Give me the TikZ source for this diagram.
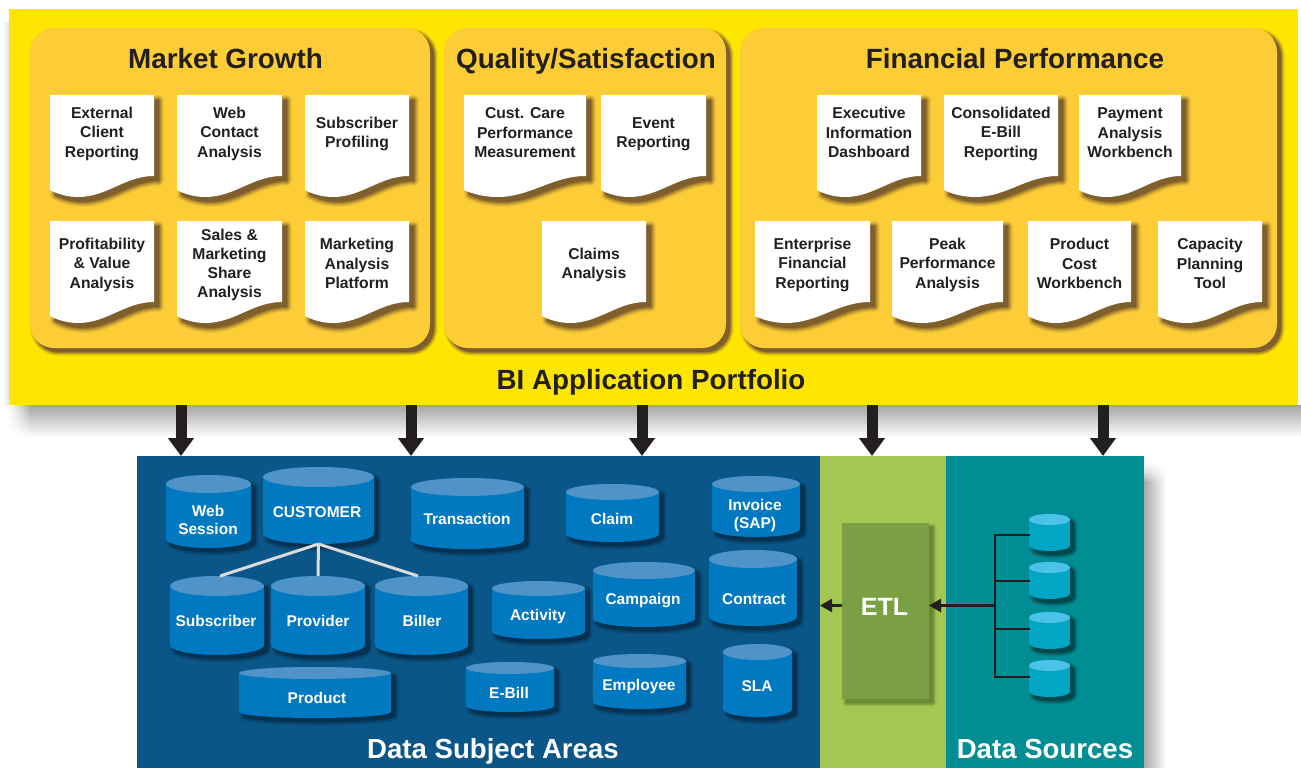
\documentclass[tikz,border=0pt]{standalone}
\usepackage{fontspec}
\setmainfont{Liberation Sans}
\usetikzlibrary{arrows.meta}
\definecolor{cYellow}{HTML}{FFE600}
\definecolor{cPanel}{HTML}{FCCD36}
\definecolor{cInk}{HTML}{231F20}
\definecolor{cBlue}{HTML}{0A5688}
\definecolor{cGreen}{HTML}{A4C652}
\definecolor{cTeal}{HTML}{008E94}
\definecolor{cEtl}{HTML}{7BA043}
\definecolor{cCyl}{HTML}{0079C1}
\definecolor{cCylTop}{HTML}{4F93C8}
\definecolor{cSrc}{HTML}{00A6C4}
\definecolor{cSrcTop}{HTML}{4BC3E8}
\definecolor{cDocShadow}{HTML}{7F5F2C}
\definecolor{cCylShadow}{HTML}{063252}
\definecolor{cSrcShadow}{HTML}{00474C}
\definecolor{cEtlShadow}{HTML}{678A33}
\newcommand{\myS}{\rule[-3pt]{0pt}{18pt}}
\tikzset{
  shadowlayer/.style n args={5}{preaction={draw=#1!#5!#2,fill=#1!#5!#2,line width=#4pt,line join=round,transform canvas={shift={(#3pt,-#3pt)}}}},
  softshadow/.style n args={3}{
    shadowlayer={#1}{#2}{#3}{#3*2}{8},
    shadowlayer={#1}{#2}{#3}{#3*1.6}{22},
    shadowlayer={#1}{#2}{#3}{#3*1.2}{40},
    shadowlayer={#1}{#2}{#3}{#3*.8}{58},
    shadowlayer={#1}{#2}{#3}{#3*.4}{78},
    preaction={fill=#1,transform canvas={shift={(#3pt,-#3pt)}}}},
  band/.style={rectangle,inner sep=0pt,outer sep=0pt,anchor=north west},
  panelbox/.style={band,fill=cPanel,rounded corners=24pt,softshadow={cDocShadow}{cYellow}{4}},
  bigtitle/.style={text=cInk,anchor=base,inner sep=0pt,font=\fontsize{27.8}{32}\bfseries\selectfont},
  whitetitle/.style={text=white,anchor=base,inner sep=0pt,font=\fontsize{27.6}{32}\bfseries\selectfont},
  doctext/.style={text=cInk,align=center,inner sep=0pt,font=\fontsize{15.7}{19.2}\bfseries\selectfont},
  cyltext/.style={text=white,align=center,inner sep=0pt,font=\fontsize{15.5}{18}\bfseries\selectfont},
  bigarrow/.style={draw=cInk,line width=11pt,-{Triangle[length=18pt,width=25pt]},shorten >=0pt},
  smallarrow/.style={draw=cInk,line width=2.2pt,-{Triangle[length=12pt,width=13pt]}},
  busline/.style={draw=cInk,line width=2.4pt,line cap=rect},
  linkline/.style={draw=white!86!black,line width=3pt}
}
% \docu{name}{x1}{x2}{ytop}{ytext}{text}
\newcommand{\docu}[6]{%
  \pgfmathsetmacro{\docW}{#3-#2}\pgfmathsetmacro{\docC}{(#2+#3)/2}%
  \begin{scope}[shift={(#2,#4)},x=\docW pt]
    \path[fill=white,softshadow={cDocShadow}{cPanel}{5}]
      (0,0) -- (1,0) -- (1,81) .. controls (0.72,81) and (0.55,102) .. (0.27,102)
      .. controls (0.17,102) and (0.07,99) .. (0,95) -- cycle;
  \end{scope}
  \node[doctext] (#1) at (\docC,#5) {\myS #6\myS};}
% \cyl{name}{x1}{x2}{ytop}{ybot}{e}{topcolor}{bodycolor}{shadow colour / background}
\newcommand{\cyl}[9]{%
  \pgfmathsetmacro{\cyC}{(#2+#3)/2}\pgfmathsetmacro{\cyA}{(#3-#2)/2}%
  \pgfmathsetmacro{\cyT}{#4+#6}\pgfmathsetmacro{\cyB}{#5-#6}%
  \pgfmathsetmacro{\cyL}{#2+.45*\cyA}\pgfmathsetmacro{\cyR}{#3-.45*\cyA}%
  \pgfmathsetmacro{\cyQ}{\cyB+.55*#6}\pgfmathsetmacro{\cyM}{(#4+#5)/2}%
  \pgfmathsetmacro{\cyP}{\cyT-.55*#6}%
  \path[fill=#8,#9] (#2,\cyT) .. controls (#2,\cyP) and (\cyL,#4) .. (\cyC,#4)
     .. controls (\cyR,#4) and (#3,\cyP) .. (#3,\cyT) -- (#3,\cyB)
     .. controls (#3,\cyQ) and (\cyR,#5) .. (\cyC,#5)
     .. controls (\cyL,#5) and (#2,\cyQ) .. (#2,\cyB) -- cycle;
  \fill[#7] (\cyC,\cyT) ellipse [x radius=\cyA,y radius=#6];
  \coordinate (#1-t) at (\cyC,#4);
  \coordinate (#1-b) at (\cyC,#5);
  \coordinate (#1-l) at (#2,\cyM);}
\newcommand{\dbcyl}[9]{\cyl{#1}{#2}{#3}{#4}{#5}{#6}{cCylTop}{cCyl}{softshadow={cCylShadow}{cBlue}{4}}\node[cyltext] (#1) at (#7,#8) {\myS #9\myS};}
\newcommand{\srccyl}[3]{\pgfmathsetmacro{\srcBot}{#3+37}\cyl{#1}{#2}{1070}{#3}{\srcBot}{5.5}{cSrcTop}{cSrc}{softshadow={cSrcShadow}{cTeal}{4}}}
\begin{document}
\begin{tikzpicture}[x=1pt,y=-1pt]
\useasboundingbox (0,0) rectangle (1301,768);
\fill[white] (0,0) rectangle (1301,768);
% outer shadows
\shade[left color=white,right color=black!10] (2,22) rectangle (9,405);
\shade[top color=black!36,bottom color=white] (30,405) rectangle (1301,437);
\foreach \k in {1,...,13}{
  \pgfmathsetmacro{\shpct}{36*(\k/13)^1.5}
  \pgfmathsetmacro{\shx}{4+2*\k}
  \shade[top color=black!\shpct,bottom color=white] (\shx,405) rectangle ++(2.3,32);
}
\shade[left color=black!34,right color=white] (1144,482) rectangle (1166,768);
\foreach \k in {1,...,11}{
  \pgfmathsetmacro{\shpct}{34*(\k/11)^1.5}
  \pgfmathsetmacro{\shy}{459+2*\k}
  \shade[left color=black!\shpct,right color=white] (1144,\shy) rectangle ++(22,2.3);
}
% application portfolio
\node[band,fill=cYellow,minimum width=1289pt,minimum height=396pt] (portfolio) at (9,9) {};
\node[panelbox,minimum width=400pt,minimum height=320pt] (market) at (30,28) {};
\node[panelbox,minimum width=282pt,minimum height=320pt] (quality) at (444,28) {};
\node[panelbox,minimum width=537pt,minimum height=320pt] (financial) at (740,28) {};
\node[bigtitle] (tmarket) at (225.5,68) {Market Growth};
\node[bigtitle] (tquality) at (586,68) {Quality/Satisfaction};
\node[bigtitle] (tfinancial) at (1015,68) {Financial Performance};
\node[bigtitle] (tportfolio) at (651,389) {BI Application Portfolio};
% documents
\docu{d1}{50}{154}{95}{132}{External\\Client\\Reporting}
\docu{d2}{177}{282}{95}{132}{Web\\Contact\\Analysis}
\docu{d3}{305}{409}{95}{132.5}{Subscriber\\Profiling}
\docu{d4}{50}{154}{221}{263}{Profitability\\\& Value\\Analysis}
\docu{d5}{177}{282}{221}{263}{Sales \&\\Marketing\\Share\\Analysis}
\docu{d6}{305}{409}{221}{263}{Marketing\\Analysis\\Platform}
\docu{d7}{464}{586}{95}{132}{Cust. Care\\Performance\\Measurement}
\docu{d8}{601}{706}{95}{132.5}{Event\\Reporting}
\docu{d9}{542}{646}{221}{263}{Claims\\Analysis}
\docu{d10}{817}{921}{95}{132}{Executive\\Information\\Dashboard}
\docu{d11}{944}{1058}{95}{132}{Consolidated\\E-Bill\\Reporting}
\docu{d12}{1079}{1181}{95}{132}{Payment\\Analysis\\Workbench}
\docu{d13}{755}{870}{221}{263}{Enterprise\\Financial\\Reporting}
\docu{d14}{892}{1003}{221}{263}{Peak\\Performance\\Analysis}
\docu{d15}{1028}{1131}{221}{263}{Product\\Cost\\Workbench}
\docu{d16}{1158}{1262}{221}{263}{Capacity\\Planning\\Tool}
% lower bands
\node[band,fill=cBlue,minimum width=683pt,minimum height=312pt] (subject) at (137,456) {};
\node[band,fill=cGreen,minimum width=126pt,minimum height=312pt] (etlband) at (820,456) {};
\node[band,fill=cTeal,minimum width=198pt,minimum height=312pt] (sources) at (946,456) {};
\node[whitetitle] (tsubject) at (493,758) {Data Subject Areas};
\node[whitetitle] (tsources) at (1045,758) {Data Sources};
% big arrows
\coordinate (a1) at (181,456);
\coordinate (a2) at (411,456);
\coordinate (a3) at (642,456);
\coordinate (a4) at (872,456);
\coordinate (a5) at (1103,456);
\foreach \i in {1,...,5}{\draw[bigarrow] (a\i |- portfolio.south) -- (a\i);}
% data subject cylinders
\dbcyl{web}{166}{251}{475}{548}{9}{208}{519}{Web\\Session}
\dbcyl{customer}{263}{374}{467}{544}{10}{317}{511}{CUSTOMER}
\dbcyl{transaction}{411}{524}{478}{549}{9}{467}{518.5}{Transaction}
\dbcyl{claim}{566}{659}{484}{542}{8}{612}{518.5}{Claim}
\dbcyl{invoice}{712}{800}{476}{537}{8}{755}{514}{Invoice\\(SAP)}
\dbcyl{subscriber}{170}{264}{576}{655}{10}{216}{620.5}{Subscriber}
\dbcyl{provider}{271}{365}{576}{655}{10}{318}{620.5}{Provider}
\dbcyl{biller}{375}{468}{576}{655}{10}{422}{620.5}{Biller}
\dbcyl{activity}{492}{585}{581}{639}{7.5}{538}{614.5}{Activity}
\dbcyl{campaign}{593}{695}{562}{627}{8.5}{643}{598.5}{Campaign}
\dbcyl{contract}{709}{797}{550}{626}{9}{754}{598.5}{Contract}
\dbcyl{product}{239}{391}{667}{718}{6}{317}{697.5}{Product}
\dbcyl{ebill}{466}{554}{662}{712}{6}{509}{692.5}{E-Bill}
\dbcyl{employee}{593}{686}{654}{709}{7}{639}{684.5}{Employee}
\dbcyl{sla}{723}{792}{644}{717}{8}{757}{685.5}{SLA}
% customer links
\draw[linkline] (customer-b) -- (220,576);
\draw[linkline] (customer-b) -- (provider-t);
\draw[linkline] (customer-b) -- (418,576);
% ETL
\node[band,fill=cEtl,minimum width=87pt,minimum height=176pt,softshadow={cEtlShadow}{cGreen}{4}] (etl) at (842,523) {};
\node[text=white,inner sep=0pt,anchor=base,font=\fontsize{25}{28}\bfseries\selectfont] (etllabel) at (884.5,615) {ETL};
% data sources
\srccyl{s1}{1029}{514}
\srccyl{s2}{1029}{562}
\srccyl{s3}{1029}{612}
\srccyl{s4}{1029}{660}
\coordinate (b1) at (995,535);
\coordinate (b2) at (995,581);
\coordinate (b3) at (995,629);
\coordinate (b4) at (995,677);
\coordinate (bj) at (995,605.5);
\coordinate (bandedge) at (820,605.5);
\draw[busline] (b1) -- (b4);
\draw[busline] (b1) -- (s1-l |- b1);
\draw[busline] (b2) -- (s2-l |- b2);
\draw[busline] (b3) -- (s3-l |- b3);
\draw[busline] (b4) -- (s4-l |- b4);
\draw[smallarrow] (bj) -- (bj -| etl.east);
\draw[smallarrow] (bj -| etl.west) -- (bandedge);
\end{tikzpicture}
\end{document}
